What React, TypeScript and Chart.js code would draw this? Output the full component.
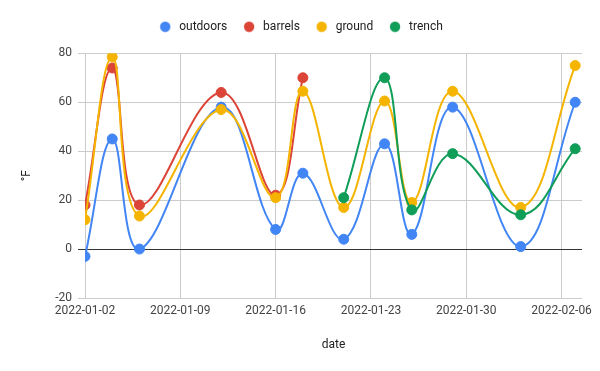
import { useEffect, useRef } from 'react';
import { Chart, registerables } from 'chart.js';

Chart.register(...registerables);

const BASE_DATE = '2022-01-02';
const dates = [
  '2022-01-02', '2022-01-04', '2022-01-06', '2022-01-12', '2022-01-16', '2022-01-18',
  '2022-01-21', '2022-01-24', '2022-01-26', '2022-01-29', '2022-02-03', '2022-02-07',
];
const outdoors = [-3, 45, 0, 58, 8, 31, 4, 43, 6, 58, 1, 60];
const barrels = [18, 74, 18, 64, 22, 70, null, null, null, null, null, null];
const ground = [12, 78.5, 13.5, 57, 21, 64.5, 17, 60.5, 19, 64.5, 17, 75];
const trench = [null, null, null, null, null, null, 21, 70, 16, 39, 14, 41];
const seriesNames = ['outdoors', 'barrels', 'ground', 'trench'];
const seriesColors = ['#4285F4', '#DB4437', '#F4B400', '#0F9D58'];
const xTickDates = ['2022-01-02', '2022-01-09', '2022-01-16', '2022-01-23', '2022-01-30', '2022-02-06'];
const xMaxDays = 36.5;
const yMin = -20;
const yMax = 80;
const yStep = 20;

const DAY = 86400000;
const baseMs = Date.parse(BASE_DATE);
const toDay = (s: string) => (Date.parse(s) - baseMs) / DAY;
const fmtDay = (d: number) => new Date(baseMs + Math.round(d) * DAY).toISOString().slice(0, 10);

function makeDot(color: string) {
  const c = document.createElement('canvas');
  c.width = 12;
  c.height = 12;
  const g = c.getContext('2d')!;
  g.fillStyle = color;
  g.beginPath();
  g.arc(6, 6, 5.2, 0, Math.PI * 2);
  g.fill();
  return c;
}

export default function App() {
  const ref = useRef<HTMLCanvasElement>(null);
  useEffect(() => {
    const all = [outdoors, barrels, ground, trench];
    const dots = seriesColors.map(makeDot);
    const datasets = all.map((vals, i) => ({
      label: seriesNames[i],
      data: dates
        .map((d, j) => ({ x: toDay(d), y: vals[j] }))
        .filter((p) => p.y !== null),
      borderColor: seriesColors[i],
      backgroundColor: seriesColors[i],
      pointBackgroundColor: seriesColors[i],
      pointBorderColor: seriesColors[i],
      pointRadius: 5,
      pointBorderWidth: 1,
      borderWidth: 2,
      tension: 0.4,
      order: 4 - i,
    }));
    const font = { family: 'Roboto', size: 12 };
    const chart = new Chart(ref.current!, {
      type: 'line',
      data: { datasets },
      options: {
        responsive: false,
        animation: false,
        layout: { padding: { top: 6.9, left: 0, right: 0, bottom: 0 } },
        plugins: {
          tooltip: { enabled: false },
          subtitle: {
            display: true,
            text: '',
            padding: 0,
            font: { size: 10.6, lineHeight: 1 },
            weight: 500,
          } as any,
          legend: {
            position: 'top',
            labels: {
              usePointStyle: true,
              pointStyleWidth: 16,
              boxHeight: 12,
              padding: 13.8,
              color: '#222',
              font: { family: 'Roboto', size: 12 },
              generateLabels: (ch: any) =>
                ch.data.datasets.map((ds: any, i: number) => ({
                  text: ds.label,
                  fillStyle: ds.backgroundColor,
                  strokeStyle: ds.borderColor,
                  lineWidth: 0,
                  hidden: false,
                  datasetIndex: i,
                  pointStyle: dots[i],
                  fontColor: '#222',
                })),
            },
          },
        },
        scales: {
          x: {
            type: 'linear',
            min: 0,
            max: xMaxDays,
            afterBuildTicks: (s: any) => {
              s.ticks = xTickDates.map((d) => ({ value: toDay(d) }));
            },
            afterFit: (s: any) => {
              s.height = 73;
              s.paddingRight = 18;
              s.paddingLeft = 0;
            },
            ticks: {
              color: '#444',
              font,
              padding: 6,
              maxRotation: 0,
              autoSkip: false,
              callback: (v: any) => fmtDay(Number(v)),
            },
            grid: { color: '#cccccc', drawTicks: false, lineWidth: 1 },
            border: { display: false },
            title: {
              display: true,
              text: 'date',
              color: '#222',
              font: { family: 'Roboto', size: 12 },
              padding: { top: 18.8, bottom: 18.8 },
            },
          },
          y: {
            min: yMin,
            max: yMax,
            afterFit: (s: any) => {
              s.width = 85;
            },
            ticks: { stepSize: yStep, color: '#444', font, padding: 6 },
            grid: {
              color: (c: any) => (c.tick && c.tick.value === 0 ? '#333333' : '#cccccc'),
              tickLength: 7,
              lineWidth: 1,
            },
            border: { display: false },
            title: {
              display: true,
              text: '°F',
              color: '#222',
              font: { family: 'Roboto', size: 12 },
              padding: { top: 19.5, bottom: 19.5 },
            },
          },
        },
      } as any,
    });
    return () => chart.destroy();
  }, []);
  return (
    <div style={{ position: 'absolute', left: 0, top: 0, width: 600, height: 371 }}>
      <canvas ref={ref} width={600} height={371} />
    </div>
  );
}
